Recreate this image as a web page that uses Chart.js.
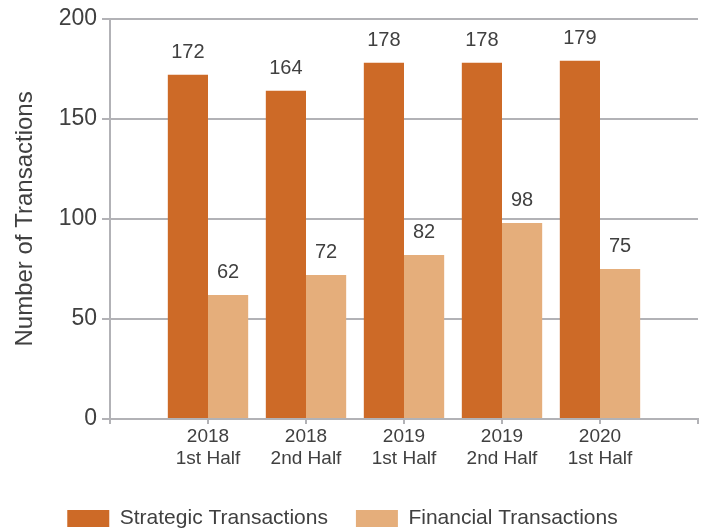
<!DOCTYPE html>
<html>
<head>
<meta charset="utf-8">
<script src="https://cdn.jsdelivr.net/npm/chart.js@4/dist/chart.umd.min.js"></script>
<style>
  html, body { margin: 0; padding: 0; background: #fff; }
  #wrap { position: relative; width: 706px; height: 529px; }
</style>
</head>
<body>
<div id="wrap"><canvas id="chart"></canvas></div>
<script>
// empty slots at both ends so the axis runs past the first and last group
const periods = ["", ["2018", "1st Half"], ["2018", "2nd Half"], ["2019", "1st Half"], ["2019", "2nd Half"], ["2020", "1st Half"], ""];
const strategic = [null, 172, 164, 178, 178, 179, null];
const financial = [null, 62, 72, 82, 98, 75, null];
const yTicks = [0, 50, 100, 150, 200];

const gridGray = "#b2b2b6";
const textGray = "#404040";
const fontFamily = "'Liberation Sans', Arial, sans-serif";

// draws the value above each bar
const valueLabels = {
    id: "valueLabels",
    afterDatasetsDraw(chart) {
        const ctx = chart.ctx;
        ctx.save();
        ctx.font = "20px " + fontFamily;
        ctx.fillStyle = textGray;
        ctx.textAlign = "center";
        ctx.textBaseline = "bottom";
        chart.data.datasets.forEach((ds, i) => {
            chart.getDatasetMeta(i).data.forEach((bar, j) => {
                if (ds.data[j] == null) return;
                ctx.fillText(ds.data[j], bar.x, bar.y - 12);
            });
        });
        ctx.restore();
    }
};

// nudge the legend lower and a little to the left, like the original
const legendShift = {
    id: "legendShift",
    afterLayout(chart) {
        const lg = chart.legend;
        if (lg) {
            lg.top += 10;
            lg.bottom += 10;
            lg.left -= 12;
            lg.right -= 12;
        }
    }
};

new Chart(document.getElementById("chart").getContext("2d"), {
    type: "bar",
    data: {
        labels: periods,
        datasets: [
            {
                label: "Strategic Transactions",
                data: strategic,
                backgroundColor: "#cd6a27",
                categoryPercentage: 0.82,
                barPercentage: 1
            },
            {
                label: "Financial Transactions",
                data: financial,
                backgroundColor: "#e5ae7b",
                categoryPercentage: 0.82,
                barPercentage: 1
            }
        ]
    },
    options: {
        responsive: true,
        maintainAspectRatio: false,
        animation: false,
        layout: { padding: { top: 12, right: 8, left: 11, bottom: 0 } },
        scales: {
            x: {
                offset: false,
                grid: {
                    display: true,
                    offset: false,
                    drawOnChartArea: false,
                    drawTicks: true,
                    tickLength: 5,
                    color: gridGray,
                    lineWidth: 2
                },
                border: { display: true, color: gridGray, width: 2 },
                ticks: {
                    color: textGray,
                    font: { family: fontFamily, size: 19 },
                    maxRotation: 0,
                    autoSkip: false,
                    padding: 1
                },
                afterFit(scale) { scale.height = 51; }
            },
            y: {
                min: 0,
                max: 200,
                afterBuildTicks(scale) { scale.ticks = yTicks.map(v => ({ value: v })); },
                grid: {
                    color: gridGray,
                    lineWidth: 2,
                    tickLength: 8
                },
                border: { display: true, color: gridGray, width: 2 },
                ticks: {
                    color: textGray,
                    font: { family: fontFamily, size: 23 },
                    padding: 5
                },
                title: {
                    display: true,
                    text: "Number of Transactions",
                    color: textGray,
                    font: { family: fontFamily, size: 24 },
                    padding: { top: 0, bottom: 4 }
                },
                afterFit(scale) { scale.width = 99; }
            }
        },
        plugins: {
            legend: {
                position: "bottom",
                labels: {
                    boxWidth: 42,
                    boxHeight: 17,
                    color: textGray,
                    padding: 28,
                    font: { family: fontFamily, size: 21 }
                }
            },
            tooltip: { enabled: false }
        }
    },
    plugins: [valueLabels, legendShift]
});
</script>
</body>
</html>
